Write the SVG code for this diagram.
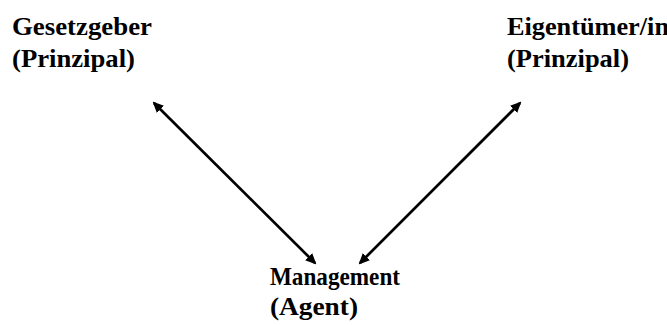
<svg xmlns="http://www.w3.org/2000/svg" width="667" height="325" viewBox="0 0 667 325">
<defs>
<style>
text{font-family:"Liberation Serif","Times New Roman",serif;font-size:26px;font-weight:bold;fill:#000}
.c{stroke:#000;stroke-width:2.7;fill:none}
</style>
<marker id="ah" markerWidth="11" markerHeight="10" refX="9" refY="5" orient="auto-start-reverse" markerUnits="userSpaceOnUse">
<path d="M0,0 L11,5 L0,10 z" fill="#000"/>
</marker>
</defs>
<rect width="667" height="325" fill="#fff"/>
<g id="gesetzgeber">
<text x="12" y="35" textLength="140" lengthAdjust="spacingAndGlyphs">Gesetzgeber</text>
<text x="12" y="67" textLength="123" lengthAdjust="spacingAndGlyphs">(Prinzipal)</text>
</g>
<g id="eigentuemer">
<text x="507" y="35" textLength="162" lengthAdjust="spacingAndGlyphs">Eigentümer/in</text>
<text x="507" y="67" textLength="122" lengthAdjust="spacingAndGlyphs">(Prinzipal)</text>
</g>
<g id="management">
<text x="270" y="285" textLength="130" lengthAdjust="spacingAndGlyphs">Management</text>
<text x="270" y="315" textLength="88" lengthAdjust="spacingAndGlyphs">(Agent)</text>
</g>
<g id="connectors">
<line class="c" x1="154" y1="103" x2="315" y2="263" marker-start="url(#ah)" marker-end="url(#ah)"/>
<line class="c" x1="520" y1="103" x2="360" y2="263" marker-start="url(#ah)" marker-end="url(#ah)"/>
</g>
</svg>
